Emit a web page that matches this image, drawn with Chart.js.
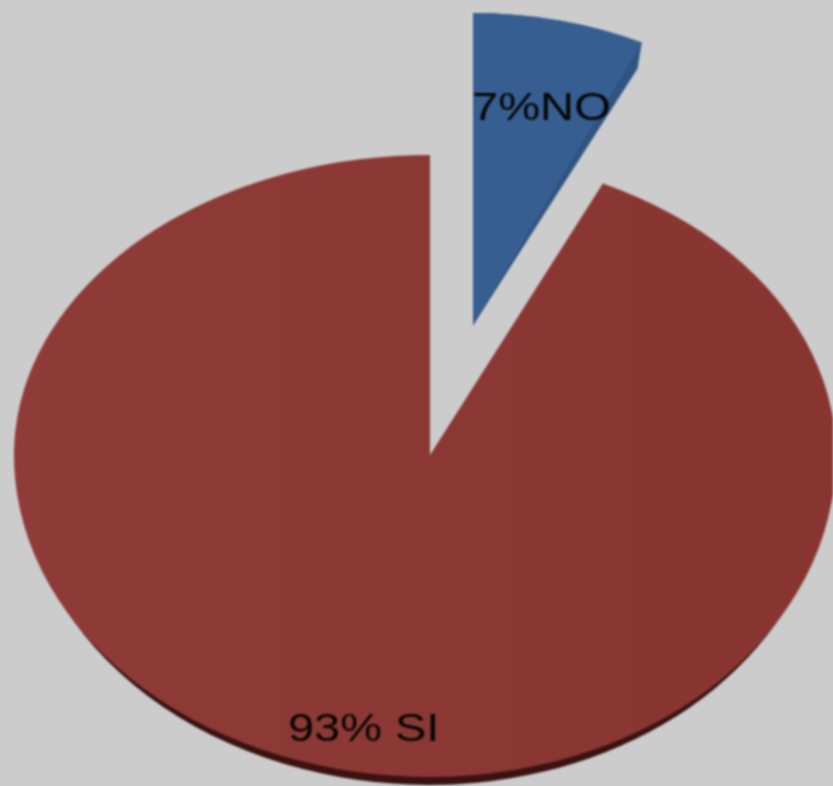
<!DOCTYPE html>
<html>
<head>
<meta charset="utf-8">
<script src="https://cdn.jsdelivr.net/npm/chart.js@4"></script>
<style>
html,body{margin:0;padding:0;background:#cccccc;overflow:hidden}
#wrap{width:833px;height:786px;overflow:hidden;background:#cccccc}
canvas{display:block;filter:blur(1.1px)}
</style>
</head>
<body>
<div id="wrap"><canvas id="c" width="833" height="786"></canvas></div>
<script>
const categories = ['NO', 'SI'];
const percentValues = [7, 93];
const sliceLabels = ['7%NO', '93% SI'];
const noColor = '#375e90';
const siColorLeft = '#8f3b37';
const siColorRight = '#883531';
const sideColors = ['#2f5482', '#3a1210'];

// perspective look: where each slice's tip lands and how far its rim reaches
const noView = { x: 473, y: 325, up: 312, side: 397 };
const siView = { x: 430, y: 455, up: 300, down: 322, left: 416, right: 406 };
const siWall = { drop: 8, inset: 7 };
const noWall = { shearY: 59.6, side: 387.5, up: 312, layers: 14 };

function place(ctx, arc, x, y, a, b, c, d) {
  ctx.translate(x, y);
  ctx.transform(a, b, c, d, 0, 0);
  ctx.translate(-arc.x, -arc.y);
}
function drawWith(ctx, arc, color) {
  const saved = arc.options;
  arc.options = Object.assign({}, saved, { backgroundColor: color });
  arc.draw(ctx);
  arc.options = saved;
}
function drawSi(ctx, arc, color, drop, inset) {
  const v = siView, R = arc.outerRadius;
  const l = v.left - inset, r = v.right - inset;
  const quads = [
    [0, 0, v.x, v.y + drop, l, v.up],
    [v.x, 0, 833 - v.x, v.y + drop, r, v.up],
    [0, v.y + drop, v.x, 786, l, v.down],
    [v.x, v.y + drop, 833 - v.x, 786, r, v.down]
  ];
  for (const q of quads) {
    ctx.save();
    ctx.beginPath();
    ctx.rect(q[0], q[1], q[2], q[3]);
    ctx.clip();
    place(ctx, arc, v.x, v.y + drop, q[4] / R, 0, 0, q[5] / R);
    drawWith(ctx, arc, color);
    ctx.restore();
  }
}

const tiltedPie = {
  id: 'tiltedPie',
  beforeDatasetDraw(chart) {
    const ctx = chart.ctx;
    const [no, si] = chart.getDatasetMeta(0).data;
    const R = no.outerRadius;
    const g = ctx.createLinearGradient(si.x - R, 0, si.x + R, 0);
    g.addColorStop(0, siColorLeft);
    g.addColorStop(1, siColorRight);
    // side walls first
    drawSi(ctx, si, sideColors[1], siWall.drop, siWall.inset);
    for (let i = 0; i <= noWall.layers; i++) {
      const t = i / noWall.layers;
      ctx.save();
      place(ctx, no, noView.x, noView.y,
        (noView.side + (noWall.side - noView.side) * t) / R,
        noWall.shearY * t / R, 0,
        (noView.up + (noWall.up - noView.up) * t) / R);
      drawWith(ctx, no, sideColors[0]);
      ctx.restore();
    }
    // top faces
    drawSi(ctx, si, g, 0, 0);
    ctx.save();
    place(ctx, no, noView.x, noView.y, noView.side / R, 0, 0, noView.up / R);
    no.draw(ctx);
    ctx.restore();
    return false;
  },
  afterDraw(chart) {
    const ctx = chart.ctx;
    ctx.save();
    ctx.fillStyle = '#050505';
    ctx.font = '38px "Liberation Sans", Arial, sans-serif';
    ctx.textBaseline = 'alphabetic';
    ctx.save();
    ctx.translate(472, 120);
    ctx.scale(1.24, 1);
    ctx.fillText(sliceLabels[0], 0, 0);
    ctx.restore();
    ctx.save();
    ctx.translate(288, 741);
    ctx.scale(1.235, 1);
    ctx.fillText(sliceLabels[1], 0, 0);
    ctx.restore();
    ctx.restore();
  }
};

new Chart(document.getElementById('c'), {
  type: 'pie',
  data: {
    labels: categories,
    datasets: [{
      data: percentValues,
      backgroundColor: [noColor, siColorRight],
      borderWidth: 0
    }]
  },
  options: {
    responsive: false,
    animation: false,
    events: [],
    layout: { padding: 0 },
    plugins: { legend: { display: false }, tooltip: { enabled: false }, title: { display: false } }
  },
  plugins: [tiltedPie]
});
</script>
</body>
</html>
